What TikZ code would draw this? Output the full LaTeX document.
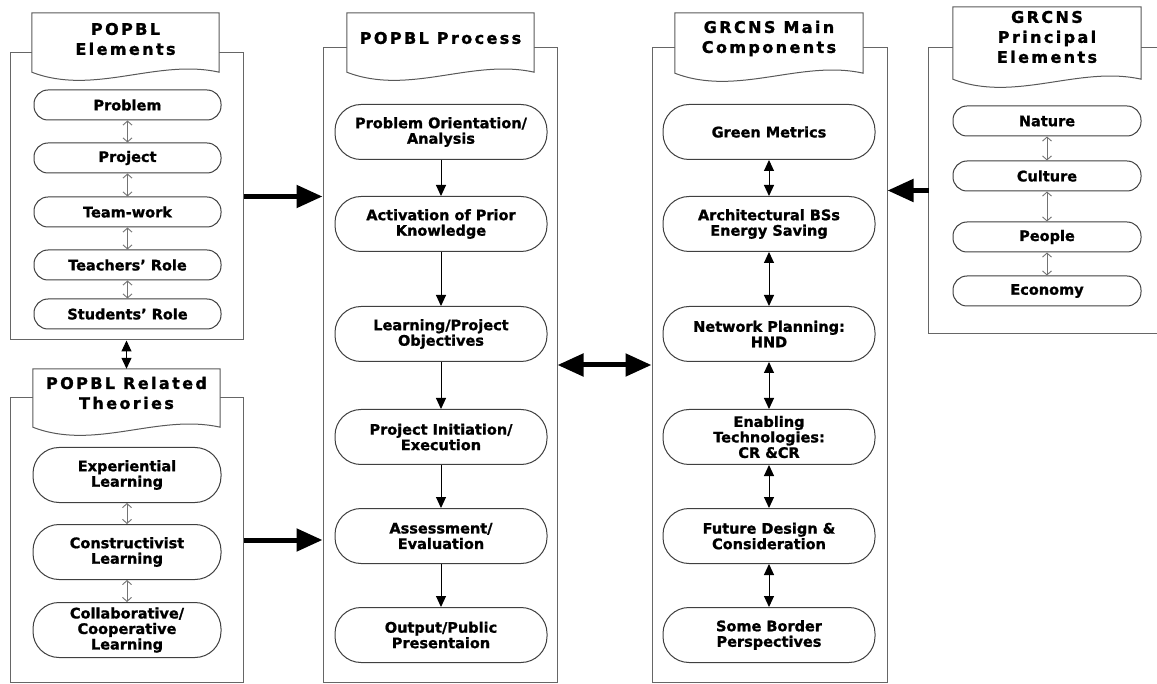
\documentclass[tikz,border=0pt]{standalone}
\usepackage{fontspec}
\setmainfont[BoldFeatures={FakeBold=1.2}]{DejaVu Sans}
\newfontfamily\headfont[LetterSpace=15,BoldFeatures={FakeBold=1.4}]{DejaVu Sans}
\usepackage{tikz}
\usetikzlibrary{positioning,calc,arrows.meta,backgrounds}
\tikzstyle{panel}=[draw=black!60, line width=1pt, inner sep=0pt]
\tikzstyle{head}=[inner sep=0pt, align=center, font=\headfont\bfseries\fontsize{16}{20}\selectfont]
\tikzstyle{docline}=[draw=black!65, fill=white, line width=1pt]
\tikzstyle{pill}=[draw=black!75, fill=white, line width=1pt, inner sep=0pt, align=center, font=\bfseries\fontsize{14.5}{15.5}\selectfont]
\tikzstyle{shortpill}=[pill, minimum width=187pt, minimum height=30pt, rounded corners=14pt]
\tikzstyle{tallpill}=[pill, minimum width=188pt, minimum height=55pt, rounded corners=26pt]
\tikzstyle{widepill}=[pill, minimum width=212pt, minimum height=55pt, rounded corners=26pt]
\tikzstyle{greyboth}=[draw=black!55, line width=0.9pt, {Straight Barb[length=4pt,width=9pt]}-{Straight Barb[length=4pt,width=9pt]}]
\tikzstyle{flow}=[line width=1pt, -{Triangle[length=11pt,width=10pt]}]
\tikzstyle{flowboth}=[line width=1pt, {Triangle[length=11pt,width=10pt]}-{Triangle[length=11pt,width=10pt]}]
\tikzstyle{bigarrow}=[line width=5pt, -{Triangle[length=26pt,width=22pt]}]
\tikzstyle{bigboth}=[line width=5pt, {Triangle[length=26pt,width=22pt]}-{Triangle[length=26pt,width=22pt]}]
\newcommand{\docshape}[2]{%
	\filldraw[docline] ($(#1.south west)+(0,#2)$) -- (#1.north west) -- (#1.north east) -- ($(#1.south east)+(0,#2)$) .. controls +(-62,-14) and +(62,24) .. ($(#1.south west)+(0,#2)$) -- cycle;
}

\begin{document}
\begin{tikzpicture}[x=1pt,y=-1pt]
						\useasboundingbox (0,0) rectangle (1157,684);
						\node[head, minimum width=187pt, minimum height=52pt] (h1) at (125.5,39) {POPBL\\Elements};
						\node[head, minimum width=187pt, minimum height=50pt] (h2) at (440.5,38) {POPBL Process};
						\node[head, minimum width=188pt, minimum height=51pt] (h3) at (769,38.5) {GRCNS Main\\Components};
						\node[head, minimum width=187pt, minimum height=48pt] (h4) at (126.5,393) {POPBL Related\\Theories};
						\node[head, minimum width=188pt, minimum height=60pt] (h5) at (1047,37) {GRCNS\\Principal\\Elements};
						\begin{scope}[on background layer]
						\node[panel, minimum width=233pt, minimum height=287pt] (p1) at (126.5,196.5) {};
						\node[panel, minimum width=234pt, minimum height=634pt] (p2) at (440,365) {};
						\node[panel, minimum width=235pt, minimum height=634pt] (p3) at (769.5,365) {};
						\node[panel, minimum width=233pt, minimum height=284pt] (p4) at (126.5,540) {};
						\node[panel, draw=none, minimum width=241pt, minimum height=285pt] (p5) at (1049.5,190.5) {};
						\draw[panel] (p5.north east) -- (p5.north west) -- (p5.south west) -- (p5.south east);
						\docshape{h1}{7}
						\docshape{h2}{9}
						\docshape{h3}{9}
						\docshape{h4}{10}
						\docshape{h5}{12}
						\end{scope}
						\node[shortpill] (prob) at (127.5,105) {Problem};
						\node[shortpill] (proj) at (127.5,158) {Project};
						\node[shortpill] (team) at (127.5,212) {Team-work};
						\node[shortpill] (teach) at (127.5,265) {Teachers’ Role};
						\node[shortpill] (stud) at (127.5,314) {Students’ Role};
						\node[tallpill] (exper) at (127,475) {Experiential\\Learning};
						\node[tallpill] (constr) at (127,552) {Constructivist\\Learning};
						\node[tallpill] (collab) at (127,630) {Collaborative/\\Cooperative\\Learning};
						\node[widepill] (orient) at (441,132) {Problem Orientation/\\Analysis};
						\node[widepill] (activ) at (441,224) {Activation of Prior\\Knowledge};
						\node[widepill] (object) at (441,334) {Learning/Project\\Objectives};
						\node[widepill] (initi) at (441,437) {Project Initiation/\\Execution};
						\node[widepill] (assess) at (441,536) {Assessment/\\Evaluation};
						\node[widepill] (output) at (441,635) {Output/Public\\Presentaion};
						\node[widepill] (green) at (769,132) {Green Metrics};
						\node[widepill] (archi) at (769,224) {Architectural BSs\\Energy Saving};
						\node[widepill] (netw) at (769,334) {Network Planning:\\HND};
						\node[widepill] (enabl) at (769,437) {Enabling\\Technologies:\\CR \&CR};
						\node[widepill] (future) at (769,536) {Future Design \&\\Consideration};
						\node[widepill] (border) at (769,635) {Some Border\\Perspectives};
						\node[shortpill, minimum width=188pt] (nature) at (1047,121) {Nature};
						\node[shortpill, minimum width=188pt] (culture) at (1047,176) {Culture};
						\node[shortpill, minimum width=188pt] (people) at (1047,237) {People};
						\node[shortpill, minimum width=188pt] (econ) at (1047,291) {Economy};
						\draw[greyboth](prob) -- (proj);
						\draw[greyboth](proj) -- (team);
						\draw[greyboth](team) -- (teach);
						\draw[greyboth](teach) -- (stud);
						\draw[greyboth](exper) -- (constr);
						\draw[greyboth](constr) -- (collab);
						\draw[greyboth](nature) -- (culture);
						\draw[greyboth](culture) -- (people);
						\draw[greyboth](people) -- (econ);
						\draw[flow](orient) -- (activ);
						\draw[flow](activ) -- (object);
						\draw[flow](object) -- (initi);
						\draw[flow](initi) -- (assess);
						\draw[flow](assess) -- (output);
						\draw[flowboth](green) -- (archi);
						\draw[flowboth](archi) -- (netw);
						\draw[flowboth](netw) -- (enabl);
						\draw[flowboth](enabl) -- (future);
						\draw[flowboth](future) -- (border);
						\draw[flowboth](p1.south) -- (h4.north);
						\draw[bigarrow](p1.east) -- (p1.east -| p2.west);
						\draw[bigarrow](p4.east) -- (p4.east -| p2.west);
						\draw[bigboth](p2.east) -- (p3.west);
						\draw[bigarrow](p5.west) -- (p5.west -| p3.east);
					\end{tikzpicture}
\end{document}
